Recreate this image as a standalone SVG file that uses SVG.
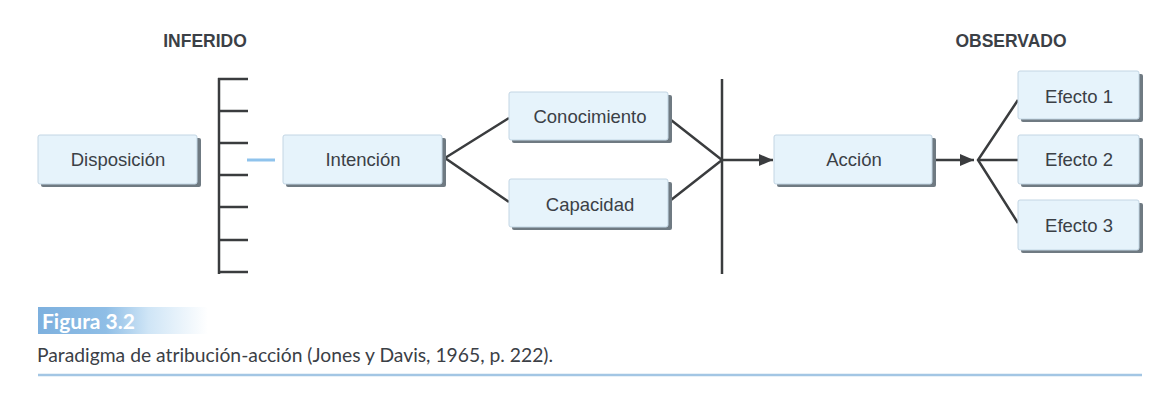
<svg xmlns="http://www.w3.org/2000/svg" width="1165" height="405" viewBox="0 0 1165 405">
<defs>
<marker id="arr" viewBox="0 0 14 12" refX="14" refY="6" markerWidth="14" markerHeight="12" markerUnits="userSpaceOnUse" orient="auto">
<path d="M0,0 L14,6 L0,12 Z" fill="#3a3c3e"/>
</marker>
<linearGradient id="figbg" x1="0" y1="0" x2="1" y2="0">
<stop offset="0" stop-color="#7db0de"/>
<stop offset="0.4" stop-color="#8fbee6"/>
<stop offset="0.65" stop-color="#cfe5f6"/>
<stop offset="1" stop-color="#ffffff"/>
</linearGradient>
</defs>
<style>
.sh{fill:#6f7a82}
.bx{fill:#e6f3fb;stroke:#c3d6e4;stroke-width:1}
.lb{font-family:"Liberation Sans",Arial,sans-serif;font-size:18.5px;fill:#3b4046;text-anchor:middle}
.hd{font-family:"Liberation Sans",Arial,sans-serif;font-size:17.5px;font-weight:bold;fill:#3b4046;text-anchor:middle}
.ln{stroke:#3a3c3e;stroke-width:2.5;fill:none}
</style>
<rect width="1165" height="405" fill="#ffffff"/>
<text class="hd" x="205" y="47">INFERIDO</text>
<text class="hd" x="1011" y="47">OBSERVADO</text>
<g id="connectors">
<line class="ln" x1="219" y1="78" x2="219" y2="274"/>
<line class="ln" x1="218" y1="79" x2="248" y2="79"/>
<line class="ln" x1="218" y1="111" x2="248" y2="111"/>
<line class="ln" x1="218" y1="143" x2="248" y2="143"/>
<line class="ln" x1="218" y1="175" x2="248" y2="175"/>
<line class="ln" x1="218" y1="207" x2="248" y2="207"/>
<line class="ln" x1="218" y1="240" x2="248" y2="240"/>
<line class="ln" x1="218" y1="272" x2="248" y2="272"/>
<line x1="247" y1="160" x2="275" y2="160" stroke="#8fc3ec" stroke-width="3"/>
<polyline class="ln" points="509,118 445,158 509,202"/>
<polyline class="ln" points="671,120 722,160 671,200"/>
<line class="ln" x1="722" y1="79" x2="722" y2="274"/>
<line class="ln" x1="722" y1="160" x2="773" y2="160" marker-end="url(#arr)"/>
<line class="ln" x1="936" y1="160" x2="974" y2="160" marker-end="url(#arr)"/>
<polyline class="ln" points="1018,100 978,160 1018,223"/>
<line class="ln" x1="978" y1="160" x2="1018" y2="160"/>
</g>
<g id="n-disposicion"><rect class="sh" x="41" y="138" width="160" height="49" rx="2"/><rect class="bx" x="38" y="135" width="159" height="49" rx="2"/><text class="lb" x="118" y="166">Disposición</text></g>
<g id="n-intencion"><rect class="sh" x="286" y="138" width="160" height="49" rx="2"/><rect class="bx" x="283" y="135" width="159" height="49" rx="2"/><text class="lb" x="363" y="166">Intención</text></g>
<g id="n-conocimiento"><rect class="sh" x="512" y="95" width="160" height="48" rx="2"/><rect class="bx" x="509" y="92" width="159" height="48" rx="2"/><text class="lb" x="590" y="123">Conocimiento</text></g>
<g id="n-capacidad"><rect class="sh" x="512" y="182" width="160" height="48" rx="2"/><rect class="bx" x="509" y="179" width="159" height="48" rx="2"/><text class="lb" x="590" y="211">Capacidad</text></g>
<g id="n-accion"><rect class="sh" x="777" y="138" width="159" height="49" rx="2"/><rect class="bx" x="774" y="135" width="158" height="49" rx="2"/><text class="lb" x="854" y="166">Acción</text></g>
<g id="n-efecto1"><rect class="sh" x="1021" y="74" width="122" height="48" rx="2"/><rect class="bx" x="1018" y="71" width="121" height="48" rx="2"/><text class="lb" x="1079" y="103">Efecto 1</text></g>
<g id="n-efecto2"><rect class="sh" x="1021" y="138" width="122" height="49" rx="2"/><rect class="bx" x="1018" y="135" width="121" height="49" rx="2"/><text class="lb" x="1079" y="166">Efecto 2</text></g>
<g id="n-efecto3"><rect class="sh" x="1021" y="203" width="122" height="50" rx="2"/><rect class="bx" x="1018" y="200" width="121" height="50" rx="2"/><text class="lb" x="1079" y="232">Efecto 3</text></g>
<g id="caption">
<rect x="38" y="307" width="170" height="27" fill="url(#figbg)"/>
<text x="42" y="329" font-family="Lato,'Open Sans',sans-serif" font-size="21" font-weight="bold" fill="#ffffff">Figura 3.2</text>
<text x="37" y="362" font-family="Lato,'Open Sans',sans-serif" font-size="19.3" fill="#3b4046">Paradigma de atribución-acción (Jones y Davis, 1965, p. 222).</text>
<line x1="38" y1="375" x2="1142" y2="375" stroke="#a3c6e4" stroke-width="2.5"/>
</g>
</svg>
